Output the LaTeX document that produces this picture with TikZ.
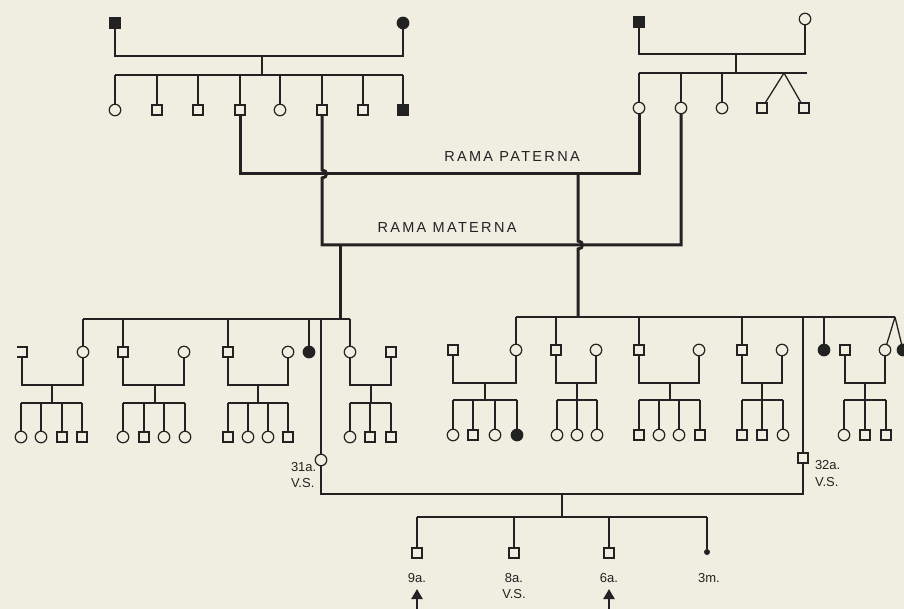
\documentclass[tikz,border=0pt]{standalone}
\usepackage{fontspec}
\setmainfont{Liberation Sans}
\newfontfamily\ramafont[LetterSpace=16]{Liberation Sans}
\usetikzlibrary{arrows.meta,calc}
\definecolor{bg}{RGB}{240,238,224}
\definecolor{ink}{RGB}{34,34,34}
% #1 left spouse, #2 right spouse, #3 descent x, #4 marriage y, #5 sibship y, #6 first child, #7 last child, #8 children
\newcommand\kin[8]{%
  \draw[ln] (#1.south) |- (#3,#4) -| (#2.south);
  \draw[ln] (#3,#4) -- (#3,#5);
  \draw[ln] (#6.north |- 0,#5) -- (#7.north |- 0,#5);
  \foreach \kid in {#8} {\draw[ln] (\kid.north) -- (\kid.north |- 0,#5);}%
}
\begin{document}
\begin{tikzpicture}[x=1pt,y=-1pt,line join=miter,
  every node/.style={inner sep=0pt,outer sep=0pt},
  sqr/.style={draw=ink,fill=bg,rectangle,minimum size=10pt,line width=1.2pt},
  cir/.style={draw=ink,fill=bg,circle,minimum size=11.5pt,line width=1.2pt},
  fsqr/.style={sqr,fill=ink},
  fcir/.style={cir,fill=ink},
  dot/.style={circle,fill=ink,minimum size=6pt},
  ln/.style={draw=ink,line width=1.3pt},
  tk/.style={draw=ink,line width=3pt},
  lbl/.style={text=ink,font=\fontsize{13}{14}\selectfont},
  rama/.style={text=ink,font=\ramafont\fontsize{14.5}{15}\selectfont},
  arr/.style={draw=ink,line width=2.2pt,-{Triangle[width=11pt,length=10pt]}}]

\fill[bg] (0,0) rectangle (904,609);
\useasboundingbox (0,0) rectangle (904,609);

% ---------- top left family
\node[fsqr] (gpA) at (115,23) {};
\node[fcir] (gmA) at (403,23) {};
\coordinate (mA) at (262,56);
\coordinate (sA) at (262,75);
\node[cir]  (A1) at (115,110) {};
\node[sqr]  (A2) at (157,110) {};
\node[sqr]  (A3) at (198,110) {};
\node[sqr]  (A4) at (240,110) {};
\node[cir]  (A5) at (280,110) {};
\node[sqr]  (A6) at (322,110) {};
\node[sqr]  (A7) at (363,110) {};
\node[fsqr] (A8) at (403,110) {};
\draw[ln] (gpA.south) |- (mA) -| (gmA.south);
\draw[ln] (mA) -- (sA);
\draw[ln] (A1.north |- sA) -- (A8.north |- sA);
\foreach \n in {A1,A2,A3,A4,A5,A6,A7,A8} \draw[ln] (\n.north) -- (\n.north |- sA);

% ---------- top right family
\node[fsqr] (gpB) at (639,22) {};
\node[cir]  (gmB) at (805,19) {};
\coordinate (mB) at (736,54);
\coordinate (sB) at (736,73);
\coordinate (sBe) at (807,73);
\coordinate (twB) at (784,73);
\node[cir] (B1) at (639,108) {};
\node[cir] (B2) at (681,108) {};
\node[cir] (B3) at (722,108) {};
\node[sqr] (B4) at (762,108) {};
\node[sqr] (B5) at (804,108) {};
\draw[ln] (gpB.south) |- (mB) -| (gmB.south);
\draw[ln] (mB) -- (sB);
\draw[ln] (B1.north |- sB) -- (sBe);
\foreach \n in {B1,B2,B3} \draw[ln] (\n.north) -- (\n.north |- sB);
\draw[ln] (twB) -- (B4);
\draw[ln] (twB) -- (B5);

% ---------- thick branches
\coordinate (pat) at (0,174);
\coordinate (mat) at (0,245);
\coordinate (h1) at (322,174);
\coordinate (pd) at (578,174);
\coordinate (h2) at (578,245);
\coordinate (md) at (340,245);
\coordinate (sL) at (340,319);
\coordinate (sR) at (578,317);
\draw[tk] (A4.south) |- (B1.south |- pat) -- (B1.south);
\draw[tk] (A6.south) -- ([yshift=4pt]h1) .. controls ([shift={(6pt,4pt)}]h1) and ([shift={(6pt,-4pt)}]h1) .. ([yshift=-4pt]h1) |- (B2.south |- mat) -- (B2.south);
\draw[tk] (pd) -- ([yshift=4pt]h2) .. controls ([shift={(6pt,4pt)}]h2) and ([shift={(6pt,-4pt)}]h2) .. ([yshift=-4pt]h2) -- (sR);
\draw[tk] (md) -- (sL);
\node[rama] (lp) at (512,157) {RAMA PATERNA};
\node[rama] (lm) at (447,228) {RAMA MATERNA};

% ---------- second generation, left
\node[minimum size=10pt] (a0) at (22,352) {};
\node[cir]  (L1) at (83,352) {};
\node[sqr]  (L2) at (123,352) {};
\node[cir]  (b0) at (184,352) {};
\node[sqr]  (L3) at (228,352) {};
\node[cir]  (c0) at (288,352) {};
\node[fcir] (L4) at (309,352) {};
\node[cir]  (L5) at (350,352) {};
\node[sqr]  (d0) at (391,352) {};
\node[cir]  (mo) at (321,460) {};
\draw[ln] (a0.north west) -- (a0.north east) -- (a0.south east) -- (a0.south west);
\draw[ln] (L1.north |- sL) -- (L5.north |- sL);
\foreach \n in {L1,L2,L3,L4,L5,mo} \draw[ln] (\n.north) -- (\n.north |- sL);

% third generation, left
\node[cir] (a1) at (21,437) {};
\node[cir] (a2) at (41,437) {};
\node[sqr] (a3) at (62,437) {};
\node[sqr] (a4) at (82,437) {};
\node[cir] (b1) at (123,437) {};
\node[sqr] (b2) at (144,437) {};
\node[cir] (b3) at (164,437) {};
\node[cir] (b4) at (185,437) {};
\node[sqr] (c1) at (228,437) {};
\node[cir] (c2) at (248,437) {};
\node[cir] (c3) at (268,437) {};
\node[sqr] (c4) at (288,437) {};
\node[cir] (d1) at (350,437) {};
\node[sqr] (d2) at (370,437) {};
\node[sqr] (d3) at (391,437) {};
\kin{a0}{L1}{52}{385}{403}{a1}{a4}{a1,a2,a3,a4}
\kin{L2}{b0}{155}{385}{403}{b1}{b4}{b1,b2,b3,b4}
\kin{L3}{c0}{258}{385}{403}{c1}{c4}{c1,c2,c3,c4}
\kin{L5}{d0}{371}{385}{403}{d1}{d3}{d1,d2,d3}

% ---------- second generation, right
\node[sqr]  (e0) at (453,350) {};
\node[cir]  (R1) at (516,350) {};
\node[sqr]  (R2) at (556,350) {};
\node[cir]  (f0) at (596,350) {};
\node[sqr]  (R3) at (639,350) {};
\node[cir]  (g0) at (699,350) {};
\node[sqr]  (R4) at (742,350) {};
\node[cir]  (h0) at (782,350) {};
\node[fcir] (R5) at (824,350) {};
\node[sqr]  (i0) at (845,350) {};
\node[cir]  (R6) at (885,350) {};
\node[fcir] (R7) at (903,350) {};
\node[sqr]  (fa) at (803,458) {};
\coordinate (twR) at (895,317);
\draw[ln] (R1.north |- sR) -- (twR);
\foreach \n in {R1,R2,R3,R4,R5,fa} \draw[ln] (\n.north) -- (\n.north |- sR);
\draw[ln] (twR) -- (R6);
\draw[ln] (twR) -- (R7);

% third generation, right
\node[cir]  (e1) at (453,435) {};
\node[sqr]  (e2) at (473,435) {};
\node[cir]  (e3) at (495,435) {};
\node[fcir] (e4) at (517,435) {};
\node[cir]  (f1) at (557,435) {};
\node[cir]  (f2) at (577,435) {};
\node[cir]  (f3) at (597,435) {};
\node[sqr]  (g1) at (639,435) {};
\node[cir]  (g2) at (659,435) {};
\node[cir]  (g3) at (679,435) {};
\node[sqr]  (g4) at (700,435) {};
\node[sqr]  (h1) at (742,435) {};
\node[sqr]  (h2) at (762,435) {};
\node[cir]  (h3) at (783,435) {};
\node[cir]  (i1) at (844,435) {};
\node[sqr]  (i2) at (865,435) {};
\node[sqr]  (i3) at (886,435) {};
\kin{e0}{R1}{485}{383}{400}{e1}{e4}{e1,e2,e3,e4}
\kin{R2}{f0}{577}{383}{400}{f1}{f3}{f1,f2,f3}
\kin{R3}{g0}{670}{383}{400}{g1}{g4}{g1,g2,g3,g4}
\kin{R4}{h0}{762}{383}{400}{h1}{h3}{h1,h2,h3}
\kin{i0}{R6}{865}{383}{400}{i1}{i3}{i1,i2,i3}

% ---------- parents and children
\node[sqr] (p1) at (417,553) {};
\node[sqr] (p2) at (514,553) {};
\node[sqr] (p3) at (609,553) {};
\node[dot] (p4) at (707,552) {};
\kin{mo}{fa}{562}{494}{517}{p1}{p4}{p1,p2,p3,p4}

\node[lbl,anchor=base west] (t31) at (291,471) {31a.};
\node[lbl,anchor=base west] (v31) at (291,487) {V.S.};
\node[lbl,anchor=base west] (t32) at (815,469) {32a.};
\node[lbl,anchor=base west] (v32) at (815,486) {V.S.};
\node[lbl,anchor=base] (t9) at (417,582) {9a.};
\node[lbl,anchor=base] (t8) at (514,582) {8a.};
\node[lbl,anchor=base] (v8) at (514,598) {V.S.};
\node[lbl,anchor=base] (t6) at (609,582) {6a.};
\node[lbl,anchor=base] (t3) at (709,582) {3m.};
\coordinate (ar1) at (417,612);
\coordinate (ar2) at (609,612);
\draw[arr] (ar1) -- (ar1 |- 0,589);
\draw[arr] (ar2) -- (ar2 |- 0,589);
\end{tikzpicture}
\end{document}
